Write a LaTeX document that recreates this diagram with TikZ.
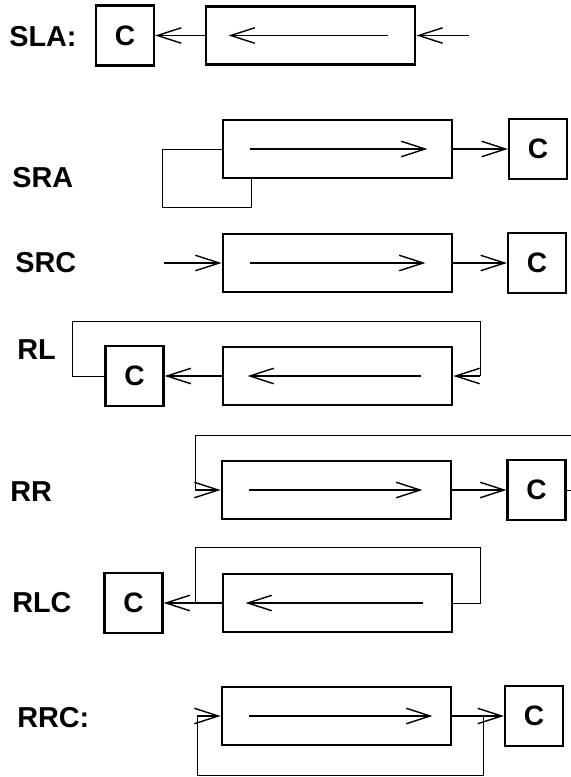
\documentclass[tikz,border=0pt]{standalone}
\usepackage{fontspec}
\setmainfont{Liberation Sans}
\usetikzlibrary{arrows.meta}
\tikzset{
  reg/.style={draw, line width=2pt, minimum width=5.725cm, minimum height=1.45cm, inner sep=0pt},
  cbox/.style={draw, line width=1.6pt, minimum width=1.45cm, minimum height=1.5cm, inner sep=0pt, font=\fontsize{20}{24}\selectfont\bfseries},
  lab/.style={anchor=west, inner sep=0pt, font=\fontsize{20.5}{25}\selectfont\bfseries},
  flow/.style={line width=1pt, -{Straight Barb[length=17pt,width=11pt]}},
  fb/.style={line width=0.7pt}
}
\begin{document}
\begin{tikzpicture}[x=0.025cm, y=-0.025cm]
  \useasboundingbox (0,0) rectangle (571,777);

  % SLA
  \node[lab] (tsla) at (9,37) {SLA:};
  \node[cbox] (csla) at (125,35.5) {C};
  \node[reg, minimum width=5.225cm] (rsla) at (310.5,35.5) {};
  \coordinate (isla) at (469,35.5);
  \draw[flow] ([xshift=-0.7cm]rsla.east) -- ([xshift=0.6cm]rsla.west);
  \draw[flow] (isla) -- (rsla.east);
  \draw[flow] (rsla.west) -- (csla.east);

  % SRA
  \node[lab] (tsra) at (12,178) {SRA};
  \node[reg] (rsra) at (337.5,149) {};
  \node[cbox] (csra) at (538,149) {C};
  \draw[flow] ([xshift=0.7cm]rsra.west) -- ([xshift=-0.65cm]rsra.east);
  \draw[flow] (rsra.east) -- (csra.west);
  \draw[fb] (rsra.west) -- ++(-59,0) -- ++(0,58) -| ([xshift=0.75cm]rsra.south west);

  % SRC
  \node[lab] (tsrc) at (15,263) {SRC};
  \node[reg] (rsrc) at (337.5,263) {};
  \node[cbox] (csrc) at (537,263) {C};
  \coordinate (isrc) at (164,263);
  \draw[flow] ([xshift=0.7cm]rsrc.west) -- ([xshift=-0.7cm]rsrc.east);
  \draw[flow] (isrc) -- (rsrc.west);
  \draw[flow] (rsrc.east) -- (csrc.west);

  % RL
  \node[lab] (trl) at (17,350) {RL};
  \node[cbox] (crl) at (134.5,376) {C};
  \node[reg] (rrl) at (337.5,376) {};
  \draw[flow] ([xshift=-0.8cm]rrl.east) -- ([xshift=0.65cm]rrl.west);
  \draw[flow] (rrl.west) -- (crl.east);
  \draw[fb] (crl.west) -- ++(-32,0) |- (480,321) -- (480,376);
  \draw[flow] (480,376) -- (rrl.east);

  % RR
  \node[lab] (trr) at (10,492) {RR};
  \node[reg] (rrr) at (336.5,490) {};
  \node[cbox] (crr) at (536.5,490) {C};
  \draw[flow] ([xshift=0.7cm]rrr.west) -- ([xshift=-0.75cm]rrr.east);
  \draw[flow] (rrr.east) -- (crr.west);
  \draw[fb] (crr.east) -- ++(8,0) |- (195,435) -- (195,490);
  \draw[flow] (195,490) -- (rrr.west);

  % RLC
  \node[lab] (trlc) at (12,603) {RLC};
  \node[cbox] (crlc) at (133.5,603) {C};
  \node[reg] (rrlc) at (337.5,603) {};
  \draw[flow] ([xshift=-0.75cm]rrlc.east) -- ([xshift=0.6cm]rrlc.west);
  \draw[flow] (rrlc.west) -- (crlc.east);
  \draw[fb] (rrlc.east) -- ++(27,0) |- (195,547) -- (195,603);

  % RRC
  \node[lab] (trrc) at (17,718) {RRC:};
  \node[reg] (rrrc) at (336.5,716) {};
  \node[cbox] (crrc) at (534,716) {C};
  \coordinate (jrrc) at (483,716);
  \draw[flow] ([xshift=0.72cm]rrrc.west) -- ([xshift=-0.5cm]rrrc.east);
  \draw[flow] (rrrc.east) -- (crrc.west);
  \draw[fb] (jrrc) -- ++(0,59) -| (197,716);
  \draw[flow] (197,716) -- (rrrc.west);
\end{tikzpicture}
\end{document}
